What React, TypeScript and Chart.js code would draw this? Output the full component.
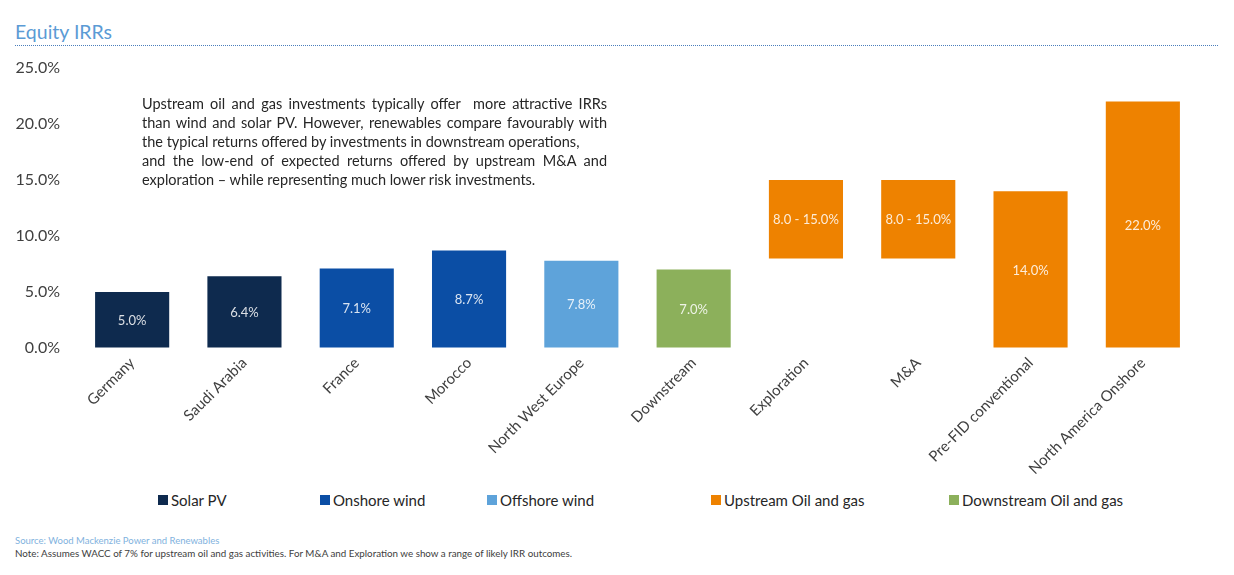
import { useEffect, useRef } from 'react';
import { Chart, registerables } from 'chart.js';

Chart.register(...registerables);

const categories = [
  'Germany',
  'Saudi Arabia',
  'France',
  'Morocco',
  'North West Europe',
  'Downstream',
  'Exploration',
  'M&A',
  'Pre-FID conventional',
  'North America Onshore',
];
const lowValues = [0, 0, 0, 0, 0, 0, 8.0, 8.0, 0, 0];
const highValues = [5.0, 6.4, 7.1, 8.7, 7.8, 7.0, 15.0, 15.0, 14.0, 22.0];
const barGroups = [
  'Solar PV',
  'Solar PV',
  'Onshore wind',
  'Onshore wind',
  'Offshore wind',
  'Downstream Oil and gas',
  'Upstream Oil and gas',
  'Upstream Oil and gas',
  'Upstream Oil and gas',
  'Upstream Oil and gas',
];
const seriesNames = ['Solar PV', 'Onshore wind', 'Offshore wind', 'Upstream Oil and gas', 'Downstream Oil and gas'];
const seriesColors = ['#0e2a4e', '#0b4ea5', '#5ea3da', '#ee8200', '#8cb05b'];
const yTicks = [0, 5, 10, 15, 20, 25];

const noteLines = [
  'Upstream oil and gas investments typically offer  more attractive IRRs',
  'than wind and solar PV. However, renewables compare favourably with',
  'the typical returns offered by investments in downstream operations,',
  'and the low-end of expected returns offered by upstream M&A and',
  'exploration \u2013 while representing much lower risk investments.',
];

const legendLefts = [158, 320, 487, 711, 949];

const FONT = 'Lato, "Open Sans", sans-serif';

function barLabel(i: number) {
  const lo = lowValues[i];
  const hi = highValues[i];
  if (lo > 0) return `${lo.toFixed(1)} - ${hi.toFixed(1)}%`;
  return `${hi.toFixed(1)}%`;
}

const barLabelPlugin = {
  id: 'barLabels',
  afterDatasetsDraw(chart: Chart) {
    const ctx = chart.ctx;
    const meta = chart.getDatasetMeta(0);
    ctx.save();
    ctx.font = `13px ${FONT}`;
    ctx.fillStyle = 'rgba(255,255,255,0.85)';
    ctx.textAlign = 'center';
    ctx.textBaseline = 'middle';
    meta.data.forEach((el: any, i: number) => {
      const cy = (el.y + el.base) / 2;
      ctx.fillText(barLabel(i), el.x, cy + 1);
    });
    ctx.restore();
  },
};

function IrrChart() {
  const canvasRef = useRef<HTMLCanvasElement | null>(null);
  const chartRef = useRef<Chart | null>(null);

  useEffect(() => {
    const canvas = canvasRef.current;
    if (!canvas) return;
    if (chartRef.current) {
      chartRef.current.destroy();
      chartRef.current = null;
    }
    const colors = barGroups.map((g) => seriesColors[seriesNames.indexOf(g)]);

    chartRef.current = new Chart(canvas, {
      type: 'bar',
      data: {
        labels: categories,
        datasets: [
          {
            label: 'Equity IRR',
            data: categories.map((_, i) => [lowValues[i], highValues[i]]) as any,
            backgroundColor: colors,
            borderWidth: 0,
            categoryPercentage: 1,
            barPercentage: 0.66,
          },
        ],
      },
      options: {
        animation: false,
        responsive: true,
        maintainAspectRatio: false,
        layout: { padding: { top: 13, right: 35, left: 0, bottom: 0 } },
        plugins: {
          legend: { display: false },
          tooltip: { enabled: false },
        },
        scales: {
          x: {
            grid: { display: false, drawTicks: false },
            border: { display: false },
            ticks: {
              color: '#404040',
              font: { family: FONT, size: 15 },
              minRotation: 45,
              maxRotation: 45,
              padding: 6,
              autoSkip: false,
            },
            afterFit: (s: any) => {
              s.height = 137;
            },
          },
          y: {
            min: 0,
            max: 25,
            grid: { display: true, drawOnChartArea: false, drawTicks: true, tickLength: 16, color: 'rgba(0,0,0,0)' },
            border: { display: false },
            afterBuildTicks: (s: any) => {
              s.ticks = yTicks.map((v) => ({ value: v }));
            },
            ticks: {
              color: '#404040',
              font: { family: FONT, size: 16 },
              padding: 0,
              callback: (v: any) => `${Number(v).toFixed(1)}%`,
            },
            afterFit: (s: any) => {
              s.width = 76;
            },
          },
        },
      },
      plugins: [barLabelPlugin],
    });

    return () => {
      if (chartRef.current) {
        chartRef.current.destroy();
        chartRef.current = null;
      }
    };
  }, []);

  return (
    <div style={{ position: 'absolute', left: 0, top: 55, width: 1234, height: 430 }}>
      <canvas ref={canvasRef} />
    </div>
  );
}

export default function App() {
  useEffect(() => {
    document.body.style.margin = '0';
    document.body.style.background = '#ffffff';
  }, []);

  return (
    <div style={{ position: 'relative', width: 1234, height: 575, overflow: 'hidden', fontFamily: FONT, background: '#fff' }}>
      <div style={{ position: 'absolute', left: 15, top: 20, fontSize: 19.5, color: '#5b9bd5', lineHeight: '24px' }}>
        Equity IRRs
      </div>
      <div style={{ position: 'absolute', left: 15, top: 45, width: 1203, borderTop: '1.5px dotted #4a7ebb' }} />

      <IrrChart />

      <div style={{ position: 'absolute', left: 142, top: 94, width: 465, fontSize: 14.5, lineHeight: '19px', color: '#262626' }}>
        {noteLines.map((line, i) => (
          <div
            key={i}
            style={{
              whiteSpace: 'pre',
              textAlign: 'justify',
              textAlignLast: i < noteLines.length - 1 && i !== 2 ? 'justify' : 'left',
            }}
          >
            {line}
          </div>
        ))}
      </div>

      {seriesNames.map((name, i) => (
        <div
          key={name}
          style={{ position: 'absolute', left: legendLefts[i], top: 490, display: 'flex', alignItems: 'center', fontSize: 15, color: '#262626', lineHeight: '20px' }}
        >
          <span style={{ display: 'inline-block', width: 10, height: 10, background: seriesColors[i], marginRight: 3 }} />
          <span>{name}</span>
        </div>
      ))}

      <div style={{ position: 'absolute', left: 15, top: 535, fontSize: 9.5, color: '#7fb2de', lineHeight: '12px' }}>
        Source: Wood Mackenzie Power and Renewables
      </div>
      <div style={{ position: 'absolute', left: 15, top: 547, fontSize: 9.8, color: '#404040', lineHeight: '12px' }}>
        Note: Assumes WACC of 7% for upstream oil and gas activities. For M&A and Exploration we show a range of likely IRR outcomes.
      </div>
    </div>
  );
}
